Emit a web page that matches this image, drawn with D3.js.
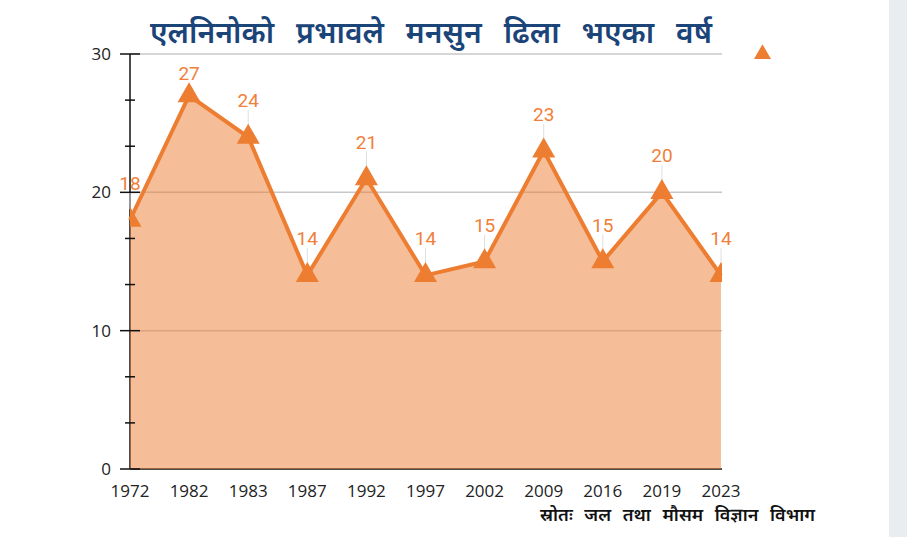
<!DOCTYPE html>
<html>
<head>
<meta charset="utf-8">
<script src="https://cdn.jsdelivr.net/npm/d3@7"></script>
<style>
  body { margin: 0; background: #ffffff; }
  svg { display: block; }
</style>
</head>
<body>
<svg id="chart" width="907" height="537"></svg>
<script>
// Years in which the monsoon was delayed by El Niño, and the delay in days
const years = ["1972", "1982", "1983", "1987", "1992", "1997", "2002", "2009", "2016", "2019", "2023"];
const delays = [18, 27, 24, 14, 21, 14, 15, 23, 15, 20, 14];
const yTicks = [0, 10, 20, 30];
const titleText = "एलनिनोको प्रभावले मनसुन ढिला भएका वर्ष";
const sourceText = "स्रोतः जल तथा मौसम विज्ञान विभाग";

const svg = d3.select("#chart");
const width = +svg.attr("width");
const height = +svg.attr("height");

const orange = "#ED7D31";
const devFont = "'Noto Sans Devanagari', 'Lohit Devanagari', 'Noto Sans', sans-serif";

const plot = { left: 130, right: 722, top: 54, bottom: 469 };

const x = d3.scalePoint().domain(years).range([plot.left, plot.right - 1]);
const y = d3.scaleLinear().domain([0, 30]).range([plot.bottom, plot.top]);

const data = years.map((yr, i) => ({ year: yr, value: delays[i] }));

// grey strip on the right edge
svg.append("rect")
    .attr("x", 889).attr("y", 0)
    .attr("width", width - 889).attr("height", height)
    .attr("fill", "#e9edf0");

// clip for markers (they get cut at the plot edges)
svg.append("clipPath").attr("id", "plotClip")
    .append("rect")
    .attr("x", plot.left).attr("y", 0)
    .attr("width", plot.right - plot.left).attr("height", plot.bottom + 10);

// gridlines
svg.append("g")
    .selectAll("line")
    .data(yTicks.filter(d => d > 0))
    .enter()
    .append("line")
    .attr("x1", plot.left).attr("x2", plot.right)
    .attr("y1", d => y(d)).attr("y2", d => y(d))
    .attr("stroke", "#c8c8c8")
    .attr("stroke-width", 1.5);

// axis lines (under the area)
svg.append("line")
    .attr("x1", plot.left).attr("x2", plot.left)
    .attr("y1", plot.top).attr("y2", plot.bottom)
    .attr("stroke", "#111").attr("stroke-width", 1.5);
svg.append("line")
    .attr("x1", plot.left).attr("x2", plot.right)
    .attr("y1", plot.bottom).attr("y2", plot.bottom)
    .attr("stroke", "#111").attr("stroke-width", 1.5);

// area
const area = d3.area()
    .x(d => x(d.year))
    .y0(plot.bottom)
    .y1(d => y(d.value));

svg.append("path")
    .datum(data)
    .attr("d", area)
    .attr("fill", orange)
    .attr("fill-opacity", 0.5);

// y axis ticks: major both sides, minor thirds
const minor = d3.range(0, 31, 10 / 3).filter(v => Math.abs(v / 10 - Math.round(v / 10)) > 0.01);
svg.append("g")
    .selectAll("line")
    .data(yTicks)
    .enter()
    .append("line")
    .attr("x1", plot.left - 10).attr("x2", plot.left + 10)
    .attr("y1", d => y(d)).attr("y2", d => y(d))
    .attr("stroke", "#111").attr("stroke-width", 1.5);
svg.append("g")
    .selectAll("line")
    .data(minor)
    .enter()
    .append("line")
    .attr("x1", plot.left - 5).attr("x2", plot.left + 5)
    .attr("y1", d => y(d)).attr("y2", d => y(d))
    .attr("stroke", "#111").attr("stroke-width", 1.5);

// y tick labels
svg.append("g")
    .selectAll("text")
    .data(yTicks)
    .enter()
    .append("text")
    .attr("x", 111)
    .attr("y", d => y(d) + 6)
    .attr("text-anchor", "end")
    .attr("font-family", "'Open Sans', sans-serif")
    .attr("font-size", 17)
    .attr("fill", "#222")
    .text(d => d);

// x tick labels
svg.append("g")
    .selectAll("text")
    .data(years)
    .enter()
    .append("text")
    .attr("x", d => x(d))
    .attr("y", 497)
    .attr("text-anchor", "middle")
    .attr("font-family", "'Open Sans', sans-serif")
    .attr("font-size", 17)
    .attr("fill", "#222")
    .text(d => d);

// line
const line = d3.line()
    .x(d => x(d.year))
    .y(d => y(d.value));

svg.append("path")
    .datum(data)
    .attr("d", line)
    .attr("fill", "none")
    .attr("stroke", orange)
    .attr("stroke-width", 4)
    .attr("stroke-linejoin", "miter");

// label positions (pushed down near the top)
const labelY = d => Math.max(y(d.value) - 30, 80);

// leader lines from label to marker
svg.append("g")
    .selectAll("line")
    .data(data)
    .enter()
    .append("line")
    .attr("x1", d => x(d.year)).attr("x2", d => x(d.year))
    .attr("y1", d => labelY(d) + 3)
    .attr("y2", d => y(d.value) - 11)
    .attr("stroke", "#dedede")
    .attr("stroke-width", 1);

// triangle markers
const tri = d3.symbol().type(d3.symbolTriangle).size(230);
svg.append("g")
    .attr("clip-path", "url(#plotClip)")
    .selectAll("path")
    .data(data)
    .enter()
    .append("path")
    .attr("d", tri)
    .attr("transform", d => `translate(${x(d.year)},${y(d.value)})`)
    .attr("fill", orange);

// data labels
svg.append("g")
    .selectAll("text")
    .data(data)
    .enter()
    .append("text")
    .attr("x", d => x(d.year))
    .attr("y", labelY)
    .attr("text-anchor", "middle")
    .attr("font-family", "Roboto, sans-serif")
    .attr("font-size", 19)
    .attr("fill", "#EF7F3A")
    .text(d => d.value);

// legend marker
svg.append("path")
    .attr("d", d3.symbol().type(d3.symbolTriangle).size(125)())
    .attr("transform", "translate(762.5,54)")
    .attr("fill", orange);

// fit a text to a given width by widening the gaps between words
function fitWords(sel, target) {
    const natural = sel.node().getComputedTextLength();
    const gaps = sel.text().split(" ").length - 1;
    sel.attr("word-spacing", Math.max(0, (target - natural) / gaps));
}

// title
const title = svg.append("text")
    .attr("x", 150)
    .attr("y", 43)
    .attr("font-family", devFont)
    .attr("font-weight", 600)
    .attr("font-size", 30)
    .attr("fill", "#1B4479")
    .text(titleText);
fitWords(title, 562);

// source
const source = svg.append("text")
    .attr("x", 540)
    .attr("y", 521)
    .attr("font-family", devFont)
    .attr("font-weight", 600)
    .attr("font-size", 18)
    .attr("fill", "#111")
    .text(sourceText);
fitWords(source, 275);
</script>
</body>
</html>
